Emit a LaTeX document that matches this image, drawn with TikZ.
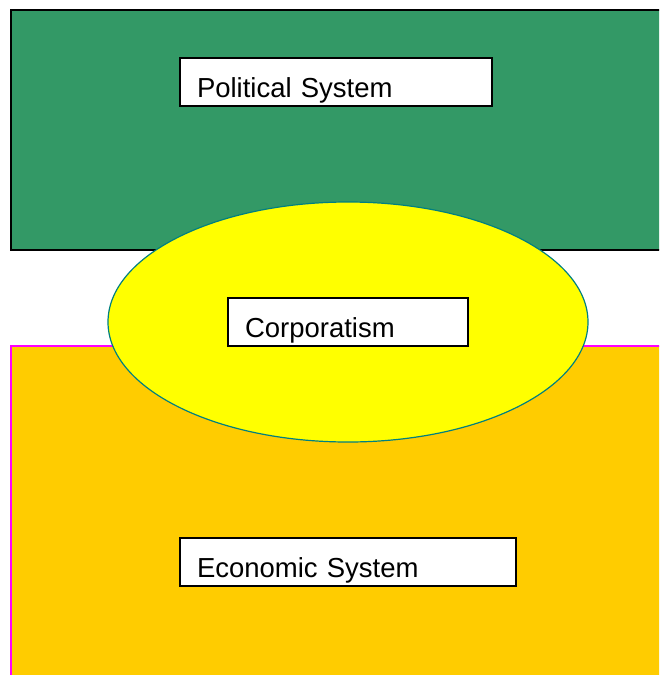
\documentclass[tikz,border=0pt]{standalone}
\usepackage{fontspec}
\setmainfont{Liberation Sans}
\definecolor{polgreen}{HTML}{339966}
\definecolor{ecoorange}{HTML}{FFCC00}
\definecolor{corpyellow}{HTML}{FFFF00}
\definecolor{corpedge}{HTML}{008080}
\definecolor{ecoedge}{HTML}{FF00FF}

\begin{document}
\begin{tikzpicture}[x=1pt, y=-1pt, line join=miter,
    labelbox/.style={draw=black, line width=1.5pt, fill=white, anchor=north west,
        minimum height=48pt, inner xsep=17pt, inner ysep=0pt, outer sep=0pt,
        text height=30pt, text depth=0pt, align=left,
        font=\fontsize{27.5}{30}\selectfont}]
                \useasboundingbox (0,0) rectangle (659,675);
                \clip (0,0) rectangle (659,675);
                % the two systems
                \coordinate (polnw) at (11,10);
                \coordinate (polse) at (700,250);
                \coordinate (econw) at (11,346);
                \coordinate (ecose) at (700,720);
                \draw[fill=polgreen, draw=black, line width=1.5pt] (polnw) rectangle (polse);
                \draw[fill=ecoorange, draw=ecoedge, line width=1.5pt] (econw) rectangle (ecose);
                % where they meet
                \coordinate (corpc) at (348,322);
                \draw[fill=corpyellow, draw=corpedge, line width=1.2pt] (corpc) ellipse [x radius=240pt, y radius=120pt];
                % labels
                \node[labelbox, text width=278pt] (political) at (180,58) {Political System};
                \node[labelbox, text width=206pt] (corporatism) at (228,298) {Corporatism};
                \node[labelbox, text width=302pt] (economic) at (180,538) {Economic System};
            \end{tikzpicture}
\end{document}
